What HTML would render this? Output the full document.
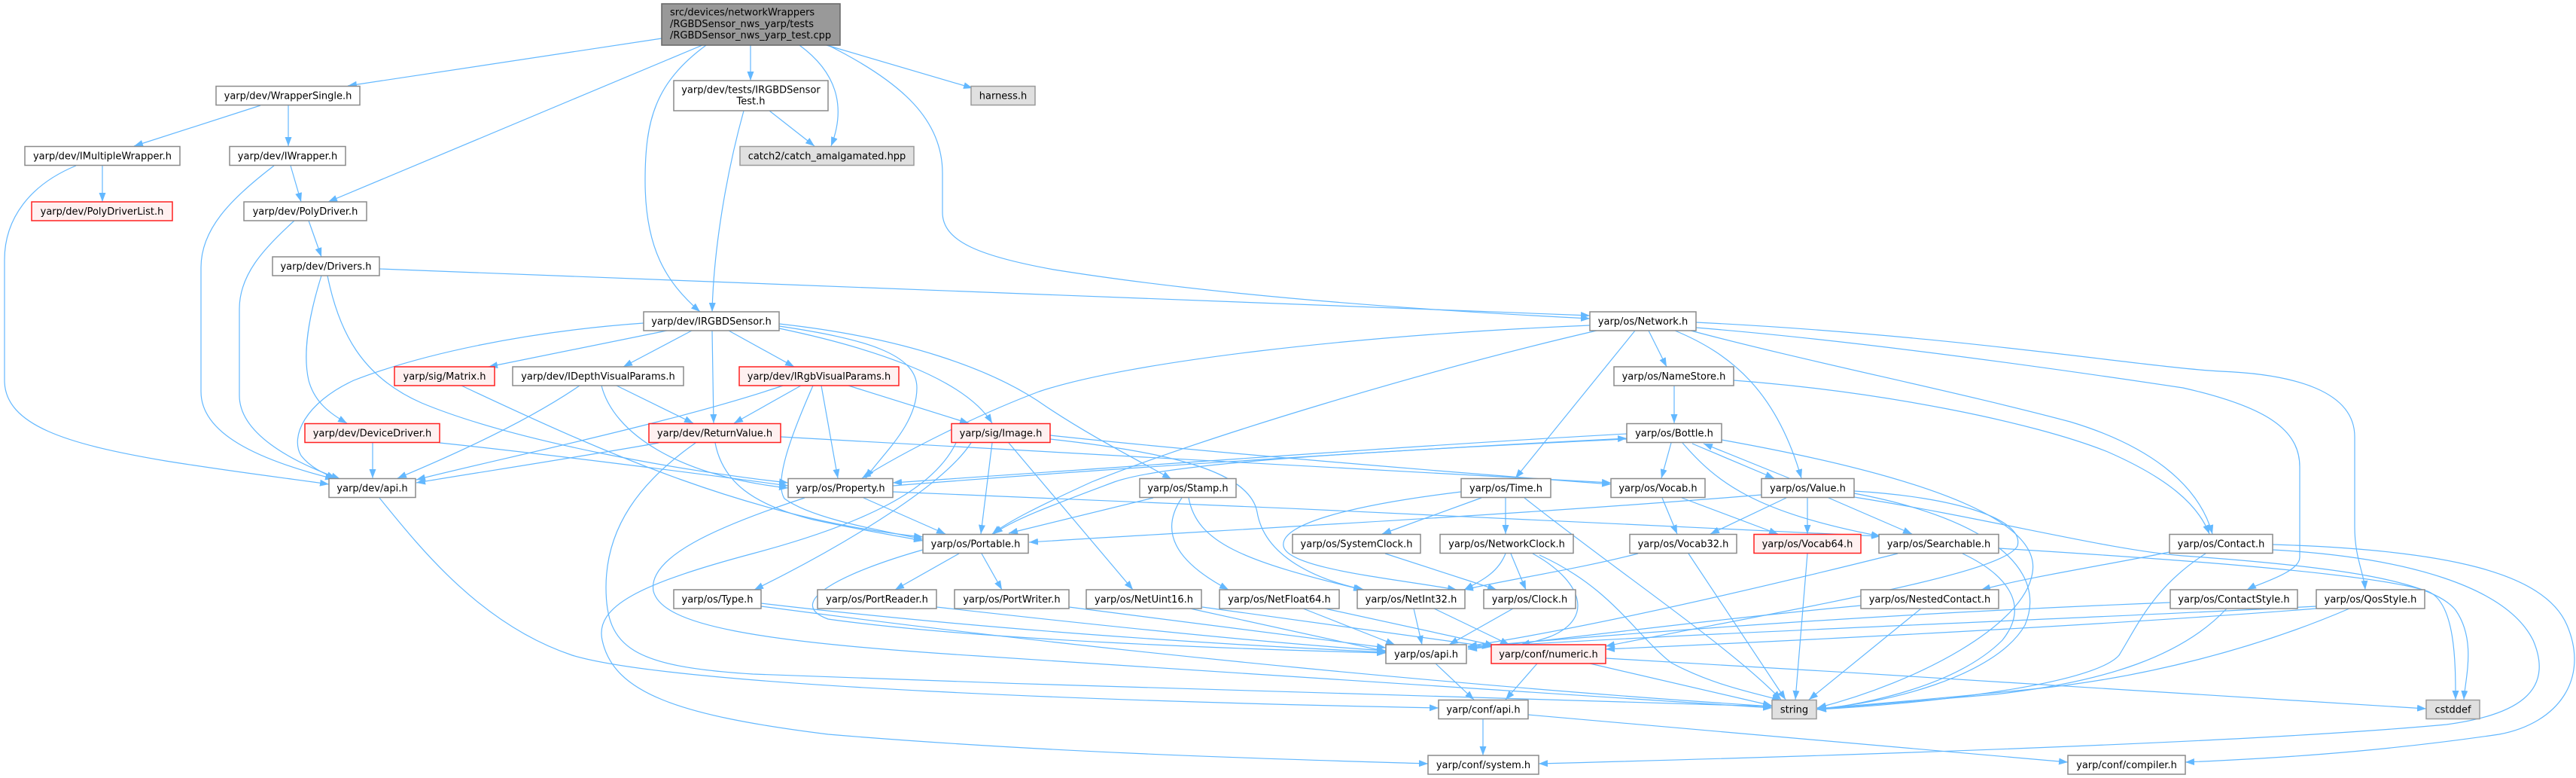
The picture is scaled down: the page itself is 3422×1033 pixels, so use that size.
<!DOCTYPE html>
<html><head><meta charset="utf-8"><style>
html,body{margin:0;padding:0;background:#fff;}
svg{display:block;}
.e{fill:none;stroke:#63b8ff;stroke-width:1.2;marker-end:url(#ah);}
.n{fill:#fff;stroke:#8a8a8a;stroke-width:1.5;}
.r{fill:#fff0f0;stroke:#ff2020;stroke-width:1.5;}
.g{fill:#e0e0e0;stroke:#9a9a9a;stroke-width:1.5;}
.m{fill:#999;stroke:#666;stroke-width:1.5;}
text{font-family:"DejaVu Sans","Liberation Sans",sans-serif;font-size:13px;fill:#000;text-anchor:middle;}
text.l{text-anchor:start;}
</style></head><body>
<svg width="3422" height="1033" viewBox="0 0 3422 1033" xmlns="http://www.w3.org/2000/svg">
<defs><marker id="ah" viewBox="0 0 12 9" refX="12" refY="4.5" markerWidth="12" markerHeight="9" markerUnits="userSpaceOnUse" orient="auto"><path d="M0,0 L12,4.5 L0,9 z" fill="#63b8ff"/></marker></defs>
<rect x="0" y="0" width="3422" height="1033" fill="#fff"/>
<g>
<path class="e" d="M879,51 L462,114"/>
<path class="e" d="M933,60 L436,268"/>
<path class="e" d="M938,60 C870,110 857,160 857,240 C857,330 885,375 930,414"/>
<path class="e" d="M997,60 L997,107"/>
<path class="e" d="M1062,60 C1110,95 1125,140 1104,194"/>
<path class="e" d="M1098,60 L1292,117"/>
<path class="e" d="M1100,60 C1200,110 1252,160 1252,230 L1252,282 C1252,320 1300,340 1400,358 C1600,390 1850,410 2112,423"/>
<path class="e" d="M1022,147 L1082,194"/>
<path class="e" d="M988,147 C965,230 948,330 946,414"/>
<path class="e" d="M346,140 L178,194"/>
<path class="e" d="M383,140 L383,194"/>
<path class="e" d="M136,220 L136,268"/>
<path class="e" d="M101,220 C40,245 6,290 6,345 L6,505 C6,565 90,590 220,612 C320,628 390,636 437,643"/>
<path class="e" d="M386,220 L400,268"/>
<path class="e" d="M364,220 C305,265 267,305 267,355 L267,520 C267,575 340,610 444,636"/>
<path class="e" d="M410,293 L427,341"/>
<path class="e" d="M391,293 C350,330 318,365 318,410 L318,525 C318,575 385,612 452,636"/>
<path class="e" d="M504,357 L2112,419"/>
<path class="e" d="M427,366 C410,420 402,470 410,505 C418,535 440,550 461,562"/>
<path class="e" d="M435,366 C450,440 480,500 560,535 C680,585 900,625 1047,641"/>
<path class="e" d="M495,588 L495,635"/>
<path class="e" d="M584,588 C700,600 900,625 1047,645"/>
<path class="e" d="M855,429 C700,440 560,470 470,505 C405,535 385,580 400,605 C412,620 428,628 446,635"/>
<path class="e" d="M886,439 L649,487"/>
<path class="e" d="M919,439 L828,487"/>
<path class="e" d="M946,439 L948,562"/>
<path class="e" d="M968,439 L1055,487"/>
<path class="e" d="M1035,433 C1150,450 1218,470 1218,515 C1218,565 1170,605 1150,635"/>
<path class="e" d="M1035,436 C1150,460 1280,500 1318,562"/>
<path class="e" d="M1035,430 C1200,448 1320,490 1390,540 C1450,580 1510,610 1556,636"/>
<path class="e" d="M613,512 C800,600 1000,690 1226,713"/>
<path class="e" d="M770,512 C700,560 600,605 528,635"/>
<path class="e" d="M819,512 L921,562"/>
<path class="e" d="M799,512 C815,575 900,632 1047,648"/>
<path class="e" d="M1040,512 C900,560 650,612 553,637"/>
<path class="e" d="M1064,512 L975,562"/>
<path class="e" d="M1091,512 L1113,635"/>
<path class="e" d="M1080,512 C1050,580 1028,640 1042,662 C1080,690 1180,706 1226,716"/>
<path class="e" d="M1127,512 L1287,562"/>
<path class="e" d="M875,588 C780,605 650,625 553,641"/>
<path class="e" d="M950,588 C960,640 1000,670 1080,690 C1150,705 1200,713 1226,718"/>
<path class="e" d="M1037,580 C1300,595 1900,628 2140,641"/>
<path class="e" d="M924,588 C850,640 805,700 805,780 C805,860 840,885 1000,895 C1500,915 2100,928 2354,938"/>
<path class="e" d="M1290,588 C1250,650 1100,735 1002,783"/>
<path class="e" d="M1318,588 L1303,709"/>
<path class="e" d="M1340,588 L1505,783"/>
<path class="e" d="M1395,583 C1550,600 1660,625 1670,680 C1680,740 1750,770 1812,783"/>
<path class="e" d="M1395,578 C1600,600 1900,625 2140,643"/>
<path class="e" d="M1270,588 C1240,650 1150,695 1000,735 C850,775 790,805 800,850 C815,920 900,950 1100,975 C1400,1000 1700,1008 1897,1014"/>
<path class="e" d="M1147,661 L1256,709"/>
<path class="e" d="M1069,661 C950,700 860,740 868,785 C880,830 1000,852 1300,871 C1700,900 2100,925 2354,940"/>
<path class="e" d="M1186,653 C1600,670 2200,695 2498,712"/>
<path class="e" d="M1186,645 C1500,620 1900,595 2161,582"/>
<path class="e" d="M2161,576 C1900,590 1500,620 1186,641"/>
<path class="e" d="M1274,735 L1189,783"/>
<path class="e" d="M1304,735 L1331,783"/>
<path class="e" d="M1226,730 C1120,760 1040,800 1100,822 C1300,850 1650,862 1841,867"/>
<path class="e" d="M1011,801 C1300,835 1600,855 1841,866"/>
<path class="e" d="M1011,805 C1500,870 2000,915 2354,938"/>
<path class="e" d="M1244,806 C1500,835 1700,855 1841,864"/>
<path class="e" d="M1420,806 L1841,860"/>
<path class="e" d="M1532,661 L1340,708"/>
<path class="e" d="M1579,661 C1590,720 1650,745 1810,783"/>
<path class="e" d="M1570,661 C1540,705 1560,745 1632,783"/>
<path class="e" d="M1581,808 L1841,865"/>
<path class="e" d="M1597,806 L1981,859"/>
<path class="e" d="M1731,808 L1853,856"/>
<path class="e" d="M1760,808 L1985,857"/>
<path class="e" d="M1878,808 L1889,856"/>
<path class="e" d="M1905,808 L2005,856"/>
<path class="e" d="M1941,653 C1800,670 1700,695 1705,725 C1710,755 1850,768 1935,783"/>
<path class="e" d="M1968,661 L1836,709"/>
<path class="e" d="M2000,661 L2000,709"/>
<path class="e" d="M2025,661 C2150,760 2300,860 2366,929"/>
<path class="e" d="M2007,735 L2027,783"/>
<path class="e" d="M2000,735 C1990,760 1970,770 1945,783"/>
<path class="e" d="M2036,735 C2100,770 2120,820 2060,845 C2040,852 2030,854 2020,856"/>
<path class="e" d="M2045,737 C2140,780 2170,840 2220,880 C2280,912 2340,922 2366,930"/>
<path class="e" d="M1840,735 L1988,783"/>
<path class="e" d="M2010,808 L1925,856"/>
<path class="e" d="M1907,881 L1958,929"/>
<path class="e" d="M1970,955 L1970,1003"/>
<path class="e" d="M2030,949 L2747,1012"/>
<path class="e" d="M2042,881 L2000,929"/>
<path class="e" d="M2112,881 L2354,937"/>
<path class="e" d="M2133,874 C2500,895 2900,920 3223,941"/>
<path class="e" d="M2112,432 C1800,445 1500,480 1380,520 C1300,550 1200,600 1145,635"/>
<path class="e" d="M2121,439 C1900,490 1600,580 1450,640 C1380,672 1340,692 1318,709"/>
<path class="e" d="M2190,439 L2214,487"/>
<path class="e" d="M2172,439 L2013,635"/>
<path class="e" d="M2225,439 C2300,470 2360,520 2393,635"/>
<path class="e" d="M2246,439 C2400,480 2600,520 2750,560 C2850,590 2920,640 2939,709"/>
<path class="e" d="M2253,435 C2500,455 2800,500 2900,515 C3010,540 3055,570 3055,620 L3055,740 C3055,760 3000,775 2985,783"/>
<path class="e" d="M2253,428 C2600,445 2850,488 2950,493 C3050,497 3128,520 3128,580 L3128,700 C3128,740 3140,760 3142,783"/>
<path class="e" d="M2224,512 L2224,562"/>
<path class="e" d="M2303,505 C2500,520 2700,560 2800,600 C2880,635 2920,670 2935,709"/>
<path class="e" d="M2220,588 L2207,635"/>
<path class="e" d="M2248,589 L2357,635"/>
<path class="e" d="M2377,635 L2263,589"/>
<path class="e" d="M2235,588 C2280,640 2330,680 2498,712"/>
<path class="e" d="M2287,584 C2600,640 2710,700 2700,760 C2690,830 2550,905 2414,940"/>
<path class="e" d="M2161,583 C1800,600 1550,615 1480,640 C1400,670 1345,690 1320,709"/>
<path class="e" d="M2208,661 L2228,709"/>
<path class="e" d="M2234,661 L2362,709"/>
<path class="e" d="M2373,661 L2272,709"/>
<path class="e" d="M2401,661 L2401,709"/>
<path class="e" d="M2429,661 L2540,709"/>
<path class="e" d="M2340,657 C2000,685 1600,705 1367,720"/>
<path class="e" d="M2463,652 C2600,660 2690,690 2680,725 C2660,762 2400,805 2133,858"/>
<path class="e" d="M2463,660 C2650,690 2800,730 2900,738 C3100,752 3230,770 3262,810 C3290,850 3275,900 3273,929"/>
<path class="e" d="M2463,655 C2650,690 2720,760 2690,830 C2650,900 2500,935 2414,941"/>
<path class="e" d="M2176,735 C2100,755 2000,770 1945,783"/>
<path class="e" d="M2243,735 L2372,929"/>
<path class="e" d="M2401,735 L2385,929"/>
<path class="e" d="M2521,735 C2300,790 2100,835 1950,858"/>
<path class="e" d="M2607,735 C2660,760 2700,800 2660,850 C2600,910 2480,935 2414,942"/>
<path class="e" d="M2655,728 C2850,740 3150,760 3225,785 C3262,800 3262,880 3262,929"/>
<path class="e" d="M2552,808 L2403,929"/>
<path class="e" d="M2472,804 C2300,820 2100,845 1950,862"/>
<path class="e" d="M2882,733 C2800,750 2700,765 2632,783"/>
<path class="e" d="M2930,735 C2860,780 2840,830 2815,870 C2780,910 2550,935 2414,942"/>
<path class="e" d="M3019,723 C3250,730 3380,760 3410,830 C3440,900 3400,960 3320,975 C3150,1000 3000,1008 2903,1012"/>
<path class="e" d="M3019,730 C3200,740 3330,780 3365,850 C3395,920 3340,950 3250,962 C3000,985 2500,1002 2044,1014"/>
<path class="e" d="M2883,800 C2500,815 2200,838 1950,859"/>
<path class="e" d="M2958,808 C2900,870 2800,905 2650,922 C2520,933 2440,940 2414,942"/>
<path class="e" d="M3077,805 C2800,820 2300,838 1950,860"/>
<path class="e" d="M3077,808 C2800,830 2400,850 2133,862"/>
<path class="e" d="M3121,808 C3000,860 2850,900 2700,915 C2550,930 2450,938 2414,941"/>
<path class="e" d="M504,661 C560,730 640,830 760,870 C900,912 1500,932 1911,940"/>
</g>
<g>
<rect class="m" x="879" y="5" width="237" height="55"/>
<text class="l" x="890" y="20.5">src/devices/networkWrappers</text>
<text class="l" x="890" y="36">/RGBDSensor_nws_yarp/tests</text>
<text class="l" x="890" y="51">/RGBDSensor_nws_yarp_test.cpp</text>
<rect class="n" x="287" y="114.5" width="191" height="25"/><text x="382.5" y="131.5">yarp/dev/WrapperSingle.h</text>
<rect class="g" x="1290" y="114.5" width="85" height="25"/><text x="1332.5" y="131.5">harness.h</text>
<rect class="n" x="895" y="107" width="205" height="40"/><text x="997.5" y="123.5">yarp/dev/tests/IRGBDSensor</text><text x="997.5" y="138.5">Test.h</text>
<rect class="n" x="33" y="194.5" width="206" height="25"/><text x="136" y="211.5">yarp/dev/IMultipleWrapper.h</text>
<rect class="n" x="305" y="194.5" width="154" height="25"/><text x="382" y="211.5">yarp/dev/IWrapper.h</text>
<rect class="g" x="983" y="194.5" width="231" height="25"/><text x="1098.5" y="211.5">catch2/catch_amalgamated.hpp</text>
<rect class="r" x="42" y="268" width="187" height="25"/><text x="135.5" y="285">yarp/dev/PolyDriverList.h</text>
<rect class="n" x="324" y="268" width="163" height="25"/><text x="405.5" y="285">yarp/dev/PolyDriver.h</text>
<rect class="n" x="362" y="341" width="142" height="25"/><text x="433" y="358">yarp/dev/Drivers.h</text>
<rect class="n" x="855" y="414" width="180" height="25"/><text x="945" y="431">yarp/dev/IRGBDSensor.h</text>
<rect class="n" x="2112" y="414" width="141" height="25"/><text x="2182.5" y="431">yarp/os/Network.h</text>
<rect class="r" x="524" y="487" width="133" height="25"/><text x="590.5" y="504">yarp/sig/Matrix.h</text>
<rect class="n" x="681" y="487" width="227" height="25"/><text x="794.5" y="504">yarp/dev/IDepthVisualParams.h</text>
<rect class="r" x="982" y="487" width="212" height="25"/><text x="1088" y="504">yarp/dev/IRgbVisualParams.h</text>
<rect class="n" x="2144" y="487" width="159" height="25"/><text x="2223.5" y="504">yarp/os/NameStore.h</text>
<rect class="r" x="405" y="562.5" width="179" height="25"/><text x="494.5" y="579.5">yarp/dev/DeviceDriver.h</text>
<rect class="r" x="862" y="562.5" width="175" height="25"/><text x="949.5" y="579.5">yarp/dev/ReturnValue.h</text>
<rect class="r" x="1264" y="562.5" width="131" height="25"/><text x="1329.5" y="579.5">yarp/sig/Image.h</text>
<rect class="n" x="2161" y="562.5" width="126" height="25"/><text x="2224" y="579.5">yarp/os/Bottle.h</text>
<rect class="n" x="437" y="635.5" width="115" height="25"/><text x="494.5" y="652.5">yarp/dev/api.h</text>
<rect class="n" x="1047" y="635.5" width="139" height="25"/><text x="1116.5" y="652.5">yarp/os/Property.h</text>
<rect class="n" x="1514" y="635.5" width="128" height="25"/><text x="1578" y="652.5">yarp/os/Stamp.h</text>
<rect class="n" x="1941" y="635.5" width="119" height="25"/><text x="2000.5" y="652.5">yarp/os/Time.h</text>
<rect class="n" x="2140" y="635.5" width="125" height="25"/><text x="2202.5" y="652.5">yarp/os/Vocab.h</text>
<rect class="n" x="2340" y="635.5" width="123" height="25"/><text x="2401.5" y="652.5">yarp/os/Value.h</text>
<rect class="n" x="1226" y="709.5" width="140" height="25"/><text x="1296" y="726.5">yarp/os/Portable.h</text>
<rect class="n" x="1717" y="709.5" width="170" height="25"/><text x="1802" y="726.5">yarp/os/SystemClock.h</text>
<rect class="n" x="1913" y="709.5" width="177" height="25"/><text x="2001.5" y="726.5">yarp/os/NetworkClock.h</text>
<rect class="n" x="2165" y="709.5" width="142" height="25"/><text x="2236" y="726.5">yarp/os/Vocab32.h</text>
<rect class="r" x="2330" y="709.5" width="142" height="25"/><text x="2401" y="726.5">yarp/os/Vocab64.h</text>
<rect class="n" x="2496" y="709.5" width="159" height="25"/><text x="2575.5" y="726.5">yarp/os/Searchable.h</text>
<rect class="n" x="2882" y="709.5" width="137" height="25"/><text x="2950.5" y="726.5">yarp/os/Contact.h</text>
<rect class="n" x="895" y="783" width="116" height="25"/><text x="953" y="800">yarp/os/Type.h</text>
<rect class="n" x="1086" y="783" width="158" height="25"/><text x="1165" y="800">yarp/os/PortReader.h</text>
<rect class="n" x="1268" y="783" width="152" height="25"/><text x="1344" y="800">yarp/os/PortWriter.h</text>
<rect class="n" x="1443" y="783" width="153" height="25"/><text x="1519.5" y="800">yarp/os/NetUint16.h</text>
<rect class="n" x="1620" y="783" width="159" height="25"/><text x="1699.5" y="800">yarp/os/NetFloat64.h</text>
<rect class="n" x="1803" y="783" width="143" height="25"/><text x="1874.5" y="800">yarp/os/NetInt32.h</text>
<rect class="n" x="1971" y="783" width="122" height="25"/><text x="2032" y="800">yarp/os/Clock.h</text>
<rect class="n" x="2472" y="783" width="183" height="25"/><text x="2563.5" y="800">yarp/os/NestedContact.h</text>
<rect class="n" x="2883" y="783" width="169" height="25"/><text x="2967.5" y="800">yarp/os/ContactStyle.h</text>
<rect class="n" x="3077" y="783" width="144" height="25"/><text x="3149" y="800">yarp/os/QosStyle.h</text>
<rect class="n" x="1841" y="856" width="107" height="25"/><text x="1894.5" y="873">yarp/os/api.h</text>
<rect class="r" x="1981" y="856" width="152" height="25"/><text x="2057" y="873">yarp/conf/numeric.h</text>
<rect class="n" x="1911" y="929.5" width="119" height="25"/><text x="1970.5" y="946.5">yarp/conf/api.h</text>
<rect class="g" x="2354" y="929.5" width="59" height="25"/><text x="2383.5" y="946.5">string</text>
<rect class="g" x="3223" y="929.5" width="71" height="25"/><text x="3258.5" y="946.5">cstddef</text>
<rect class="n" x="1897" y="1003" width="147" height="25"/><text x="1970.5" y="1020">yarp/conf/system.h</text>
<rect class="n" x="2747" y="1003" width="156" height="25"/><text x="2825" y="1020">yarp/conf/compiler.h</text>
</g>
</svg>
</body></html>
